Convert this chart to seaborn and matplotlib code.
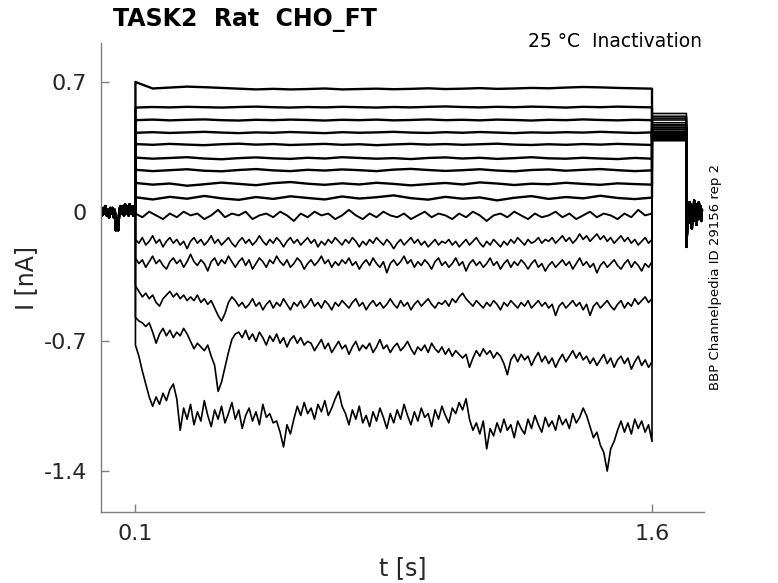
import numpy as np
import pandas as pd
import matplotlib
matplotlib.use("Agg")
import matplotlib.pyplot as plt
import seaborn as sns

# ---------------- data (nA) ----------------
pre_values = [0.01, -0.02, 0.02, -0.01, 0.03, -0.02, 0.01, -0.03, 0.02, -0.01,
              0.02, -0.03, 0.01, -0.10, -0.05, -0.10, 0.01, 0.03, -0.01, 0.03,
              -0.02, 0.04, -0.01, 0.03, -0.02, 0.04, -0.01, 0.03, -0.02, 0.03, 0.00]

tail_values = [-0.19, -0.08, 0.02, -0.06, 0.05, -0.03, 0.04, -0.09, 0.03, -0.05,
               0.06, -0.02, 0.04, -0.07, 0.02, -0.04, 0.05, -0.01, 0.03, -0.05, 0.01]

sweep1 = [0.700, 0.665, 0.670, 0.675, 0.672, 0.668, 0.664, 0.660, 0.663, 0.660, 0.662,
          0.665, 0.660, 0.662, 0.664, 0.661, 0.663, 0.666, 0.662, 0.664, 0.667, 0.663,
          0.665, 0.668, 0.666, 0.670, 0.673, 0.671, 0.668, 0.666, 0.664]
sweep2 = [0.562, 0.565, 0.563, 0.566, 0.564, 0.562, 0.565, 0.567, 0.564, 0.562, 0.565,
          0.563, 0.566, 0.564, 0.562, 0.565, 0.563, 0.566, 0.568, 0.565, 0.563, 0.566,
          0.564, 0.567, 0.565, 0.562, 0.566, 0.564, 0.567, 0.565, 0.563]
sweep3 = [0.494, 0.497, 0.493, 0.496, 0.498, 0.494, 0.492, 0.496, 0.494, 0.497, 0.495,
          0.492, 0.496, 0.494, 0.497, 0.493, 0.495, 0.498, 0.494, 0.496, 0.493, 0.497,
          0.495, 0.492, 0.496, 0.494, 0.498, 0.495, 0.493, 0.496, 0.494]
sweep4 = [0.426, 0.429, 0.425, 0.428, 0.431, 0.427, 0.424, 0.428, 0.426, 0.430, 0.427,
          0.424, 0.429, 0.426, 0.428, 0.431, 0.427, 0.425, 0.429, 0.426, 0.430, 0.427,
          0.424, 0.428, 0.426, 0.429, 0.427, 0.431, 0.428, 0.425, 0.428]
sweep5 = [0.365, 0.361, 0.366, 0.362, 0.359, 0.364, 0.367, 0.362, 0.365, 0.360, 0.363,
          0.366, 0.361, 0.364, 0.359, 0.363, 0.366, 0.362, 0.365, 0.361, 0.364, 0.367,
          0.362, 0.360, 0.364, 0.361, 0.365, 0.362, 0.366, 0.363, 0.360]
sweep6 = [0.292, 0.286, 0.290, 0.294, 0.287, 0.283, 0.289, 0.293, 0.288, 0.285, 0.291,
          0.287, 0.294, 0.290, 0.286, 0.289, 0.284, 0.290, 0.293, 0.287, 0.291, 0.285,
          0.289, 0.294, 0.288, 0.286, 0.291, 0.287, 0.284, 0.290, 0.286]
sweep7 = [0.226, 0.219, 0.224, 0.229, 0.221, 0.218, 0.225, 0.230, 0.223, 0.219, 0.226,
          0.222, 0.228, 0.224, 0.219, 0.227, 0.231, 0.225, 0.220, 0.224, 0.229, 0.222,
          0.218, 0.225, 0.228, 0.221, 0.226, 0.230, 0.224, 0.219, 0.223]
sweep8 = [0.155, 0.146, 0.152, 0.140, 0.148, 0.157, 0.150, 0.143, 0.154, 0.160, 0.151,
          0.145, 0.153, 0.147, 0.156, 0.150, 0.142, 0.149, 0.155, 0.147, 0.158, 0.152,
          0.144, 0.151, 0.148, 0.156, 0.150, 0.145, 0.153, 0.149, 0.146]
sweep9 = [0.078, 0.066, 0.080, 0.070, 0.085, 0.072, 0.064, 0.079, 0.069, 0.083, 0.074,
          0.066, 0.082, 0.071, 0.078, 0.088, 0.073, 0.065, 0.080, 0.070, 0.077, 0.061,
          0.075, 0.084, 0.069, 0.079, 0.072, 0.086, 0.074, 0.068, 0.076]
sweep10 = [-0.01, -0.03, 0.00, -0.02, -0.04, -0.01, -0.03, 0.00, -0.02, -0.01, -0.04,
           -0.02, 0.01, -0.03, -0.01, -0.02, 0.00, -0.04, -0.02, -0.01, -0.03, 0.00,
           -0.02, -0.05, -0.01, -0.03, 0.00, -0.02, -0.01, -0.04, -0.02, 0.01, -0.02,
           -0.04, -0.01, -0.03, 0.00, -0.02, -0.03, -0.01, -0.04, -0.02, 0.00, -0.03,
           -0.01, -0.02, -0.04, -0.01, -0.03, 0.00, -0.02, -0.05, -0.02, -0.01, -0.03,
           0.00, -0.02, -0.04, -0.01, -0.03, -0.02, 0.00, -0.03, -0.01, -0.04, -0.02,
           0.00, -0.03, -0.01, -0.02, -0.04, -0.01, -0.03, 0.01, -0.02, -0.01]
sweep11 = [-0.15, -0.17, -0.14, -0.18, -0.16, -0.13, -0.17, -0.15, -0.19, -0.16,
           -0.14, -0.17, -0.15, -0.18, -0.16, -0.20, -0.16, -0.14, -0.17, -0.15,
           -0.18, -0.16, -0.13, -0.17, -0.15, -0.18, -0.16, -0.14, -0.17, -0.19,
           -0.16, -0.14, -0.17, -0.15, -0.18, -0.16, -0.13, -0.16, -0.18, -0.15,
           -0.17, -0.14, -0.16, -0.19, -0.16, -0.14, -0.17, -0.15, -0.18, -0.16,
           -0.14, -0.17, -0.15, -0.19, -0.16, -0.18, -0.15, -0.17, -0.14, -0.16,
           -0.18, -0.15, -0.17, -0.14, -0.16, -0.19, -0.16, -0.18, -0.15, -0.17,
           -0.14, -0.16, -0.18, -0.15, -0.17, -0.20, -0.17, -0.15, -0.18, -0.16,
           -0.14, -0.17, -0.15, -0.18, -0.16, -0.19, -0.17, -0.15, -0.18, -0.16,
           -0.17, -0.15, -0.18, -0.16, -0.19, -0.17, -0.15, -0.18, -0.16, -0.14,
           -0.17, -0.19, -0.16, -0.18, -0.15, -0.17, -0.19, -0.16, -0.18, -0.15,
           -0.17, -0.14, -0.16, -0.18, -0.15, -0.17, -0.16, -0.14, -0.17, -0.15,
           -0.16, -0.14, -0.17, -0.15, -0.13, -0.16, -0.14, -0.17, -0.15, -0.12,
           -0.15, -0.13, -0.16, -0.14, -0.12, -0.15, -0.13, -0.16, -0.14, -0.17,
           -0.15, -0.13, -0.16, -0.14, -0.17, -0.15, -0.18, -0.16, -0.14, -0.17, -0.15]
sweep12 = [-0.25, -0.28, -0.26, -0.30, -0.27, -0.24, -0.28, -0.26, -0.29, -0.31,
           -0.27, -0.25, -0.28, -0.26, -0.30, -0.27, -0.23, -0.27, -0.29, -0.26,
           -0.28, -0.32, -0.27, -0.25, -0.29, -0.26, -0.28, -0.24, -0.27, -0.30,
           -0.27, -0.25, -0.29, -0.26, -0.31, -0.28, -0.25, -0.27, -0.30, -0.26,
           -0.28, -0.24, -0.27, -0.29, -0.26, -0.30, -0.28, -0.25, -0.27, -0.31,
           -0.28, -0.26, -0.29, -0.27, -0.24, -0.28, -0.26, -0.30, -0.27, -0.29,
           -0.26, -0.28, -0.25, -0.29, -0.27, -0.31, -0.28, -0.26, -0.29, -0.25,
           -0.28, -0.30, -0.27, -0.33, -0.28, -0.26, -0.29, -0.27, -0.24, -0.28,
           -0.26, -0.30, -0.27, -0.29, -0.26, -0.28, -0.31, -0.27, -0.25, -0.29,
           -0.27, -0.30, -0.28, -0.25, -0.29, -0.27, -0.32, -0.28, -0.26, -0.29,
           -0.27, -0.30, -0.28, -0.25, -0.29, -0.27, -0.31, -0.28, -0.26, -0.30,
           -0.27, -0.29, -0.26, -0.28, -0.31, -0.28, -0.26, -0.30, -0.28, -0.32,
           -0.29, -0.27, -0.30, -0.28, -0.26, -0.29, -0.27, -0.31, -0.28, -0.25,
           -0.29, -0.27, -0.30, -0.28, -0.33, -0.29, -0.27, -0.30, -0.28, -0.26,
           -0.29, -0.31, -0.28, -0.26, -0.30, -0.27, -0.29, -0.32, -0.28, -0.30, -0.27]
sweep13 = [-0.40, -0.43, -0.46, -0.44, -0.47, -0.45, -0.49, -0.51, -0.47, -0.45,
           -0.43, -0.46, -0.44, -0.47, -0.45, -0.48,
           -0.46, -0.48, -0.45, -0.49, -0.47, -0.50, -0.48,
           -0.52, -0.56, -0.59, -0.55, -0.49, -0.46,
           -0.48, -0.51, -0.49, -0.52, -0.50, -0.47, -0.51, -0.49, -0.53, -0.50,
           -0.48, -0.52, -0.49, -0.51, -0.47, -0.50, -0.53, -0.49, -0.51, -0.48,
           -0.52, -0.50, -0.47, -0.51, -0.49, -0.52, -0.48, -0.50, -0.53, -0.49,
           -0.51, -0.48, -0.50, -0.52, -0.49, -0.47, -0.51, -0.49, -0.53, -0.50,
           -0.48, -0.51, -0.49, -0.52, -0.50, -0.47, -0.50, -0.52, -0.48, -0.51,
           -0.49, -0.53, -0.50, -0.48, -0.51, -0.49, -0.47, -0.50, -0.52, -0.49,
           -0.50, -0.48, -0.51, -0.47, -0.49, -0.46, -0.44, -0.47, -0.49, -0.51,
           -0.48, -0.50, -0.52, -0.49, -0.51, -0.48, -0.50, -0.53, -0.49, -0.51,
           -0.48, -0.50, -0.52, -0.49, -0.51, -0.48, -0.52, -0.50, -0.48, -0.51,
           -0.49, -0.52, -0.50, -0.56, -0.51, -0.49, -0.52, -0.50, -0.48, -0.51,
           -0.49, -0.53, -0.50, -0.56, -0.51, -0.49, -0.52, -0.50, -0.48, -0.51,
           -0.53, -0.50, -0.48, -0.52, -0.49, -0.51, -0.47, -0.50, -0.48, -0.46,
           -0.49, -0.47]
sweep14 = [-0.57, -0.59, -0.60, -0.62, -0.60, -0.65, -0.71, -0.66, -0.63, -0.67,
           -0.64, -0.68, -0.65, -0.67, -0.63, -0.66,
           -0.70, -0.74, -0.71, -0.73, -0.75, -0.72,
           -0.78, -0.83, -0.97, -0.92, -0.84, -0.76, -0.69, -0.66, -0.65,
           -0.68, -0.64, -0.69, -0.66, -0.70, -0.65, -0.68, -0.72, -0.67, -0.70,
           -0.66, -0.71, -0.68, -0.73, -0.69, -0.67, -0.71, -0.68, -0.72, -0.70,
           -0.71, -0.75, -0.72, -0.69, -0.74, -0.71, -0.76, -0.73, -0.70, -0.74,
           -0.72, -0.77, -0.73, -0.70, -0.75, -0.72, -0.74, -0.71, -0.76, -0.73,
           -0.69, -0.74, -0.72, -0.76, -0.73, -0.71, -0.75, -0.73, -0.70, -0.74,
           -0.77, -0.73, -0.75, -0.72, -0.76,
           -0.71, -0.74, -0.76, -0.73, -0.77, -0.74, -0.78, -0.75, -0.77, -0.79, -0.77,
           -0.84, -0.79, -0.75, -0.78, -0.74, -0.77, -0.75, -0.79, -0.76, -0.78,
           -0.82, -0.88, -0.80, -0.77,
           -0.81, -0.77, -0.80, -0.78, -0.83, -0.79, -0.76, -0.81, -0.78, -0.82,
           -0.79, -0.84, -0.80, -0.77, -0.81, -0.78, -0.75, -0.79, -0.76, -0.80,
           -0.78, -0.82, -0.79, -0.83, -0.80, -0.77, -0.82, -0.79, -0.84, -0.80,
           -0.78, -0.82, -0.79, -0.85, -0.81, -0.78, -0.83, -0.80, -0.84, -0.81]
sweep15 = [-0.72, -0.78, -0.86, -0.93, -1.00, -1.05, -1.00, -1.04, -0.98, -1.02,
           -0.96, -0.93, -1.01, -1.18, -1.06, -1.12,
           -1.04, -1.15, -1.08, -1.13, -1.02, -1.10, -1.16, -1.07, -1.12, -1.05,
           -1.14, -1.09, -1.03, -1.12, -1.07, -1.17, -1.10, -1.06, -1.13, -1.08,
           -1.15, -1.04, -1.11, -1.09, -1.14,
           -1.13, -1.19, -1.27, -1.15, -1.20, -1.12,
           -1.05, -1.10, -1.03, -1.09, -1.06, -1.12, -1.04, -1.08, -1.02, -1.10,
           -1.06, -1.01, -0.97, -1.05,
           -1.09, -1.15, -1.07, -1.12, -1.05, -1.14, -1.10, -1.16, -1.08, -1.13,
           -1.06, -1.11, -1.17, -1.09, -1.14, -1.07, -1.12, -1.04, -1.10, -1.15,
           -1.08, -1.13, -1.06, -1.11, -1.09, -1.16, -1.07, -1.12, -1.05, -1.10,
           -1.14, -1.06, -1.09, -1.03, -1.07,
           -1.01,
           -1.12, -1.18, -1.14, -1.20, -1.13, -1.28, -1.17, -1.21, -1.14, -1.19,
           -1.12, -1.18, -1.15, -1.22, -1.13, -1.17, -1.20,
           -1.12, -1.17, -1.10, -1.15, -1.19, -1.11, -1.16, -1.13, -1.18, -1.10,
           -1.15, -1.12, -1.17, -1.09, -1.14, -1.11, -1.06, -1.10,
           -1.16, -1.22, -1.19, -1.26, -1.30, -1.40, -1.28, -1.24,
           -1.18, -1.13, -1.19, -1.14, -1.20, -1.12, -1.17, -1.13, -1.19, -1.15, -1.24]

step_sweeps = [sweep1, sweep2, sweep3, sweep4, sweep5, sweep6, sweep7, sweep8,
               sweep9, sweep10, sweep11, sweep12, sweep13, sweep14, sweep15]
post_levels = [0.385, 0.390, 0.396, 0.404, 0.414, 0.423, 0.431, 0.444,
               0.455, 0.468, 0.480, 0.495, 0.505, 0.515, 0.530]

t_pre = (0.0, 0.1)
t_step = (0.1, 1.6)
t_post = (1.6, 1.7)
t_tail = (1.7, 1.745)

# ---------------- build long table ----------------
rows = []
for k, (vals, post) in enumerate(zip(step_sweeps, post_levels)):
    tt = np.concatenate([
        np.linspace(*t_pre, len(pre_values)),
        np.linspace(*t_step, len(vals)),
        np.array(t_post),
        np.linspace(*t_tail, len(tail_values)),
    ])
    ii = np.concatenate([pre_values, vals, [post, post], tail_values])
    grp = "fine" if len(vals) > 100 else ("mid" if len(vals) > 40 else "coarse")
    for a, b in zip(tt, ii):
        rows.append((k + 1, a, b, grp))
df = pd.DataFrame(rows, columns=["sweep", "t", "I", "grp"])

# ---------------- figure ----------------
sns.set_theme(style="ticks")
plt.rcParams["font.family"] = ["DejaVu Sans"]

fig = plt.figure(figsize=(7.78, 5.83), dpi=100)
ax = fig.add_axes([101 / 778, 1 - 512 / 583, 603 / 778, 469 / 583])

widths = {"coarse": 1.7, "mid": 1.4, "fine": 1.2}
for grp, lw in widths.items():
    sns.lineplot(data=df[df["grp"] == grp], x="t", y="I", units="sweep",
                 estimator=None, sort=False, color="black", linewidth=lw,
                 ax=ax, legend=False)

ax.set_xlim(0.0, 1.751)
ax.set_ylim(-1.621, 0.9105)
ax.set_xticks([0.1, 1.6])
ax.set_xticklabels(["0.1", "1.6"])
ax.set_yticks([0.7, 0, -0.7, -1.4])
ax.set_yticklabels(["0.7", "0", "-0.7", "-1.4"])

for s in ["top", "right"]:
    ax.spines[s].set_visible(False)
for s in ["left", "bottom"]:
    ax.spines[s].set_color("#7f7f7f")
    ax.spines[s].set_linewidth(1.0)
ax.tick_params(axis="both", direction="in", length=6, width=1.0, color="#7f7f7f",
               labelsize=16, labelcolor="#262626")
ax.tick_params(axis="y", pad=10)
ax.tick_params(axis="x", pad=9)

ax.set_xlabel("t [s]", fontsize=17, color="#262626", labelpad=8)
ax.set_ylabel("I [nA]", fontsize=17, color="#262626", labelpad=4)

fig.text(113 / 778, 1 - 26 / 583, "TASK2  Rat  CHO_FT", fontsize=17, fontweight="bold",
         ha="left", va="baseline", color="black")
fig.text(702 / 778, 1 - 47 / 583, "25 °C  Inactivation", fontsize=13.5,
         ha="right", va="baseline", color="black")
fig.text(716 / 778, 1 - 277 / 583, "BBP Channelpedia ID 29156 rep 2", fontsize=9.5,
         rotation=90, ha="center", va="center", color="black")

fig.savefig("out.png", dpi=100)
